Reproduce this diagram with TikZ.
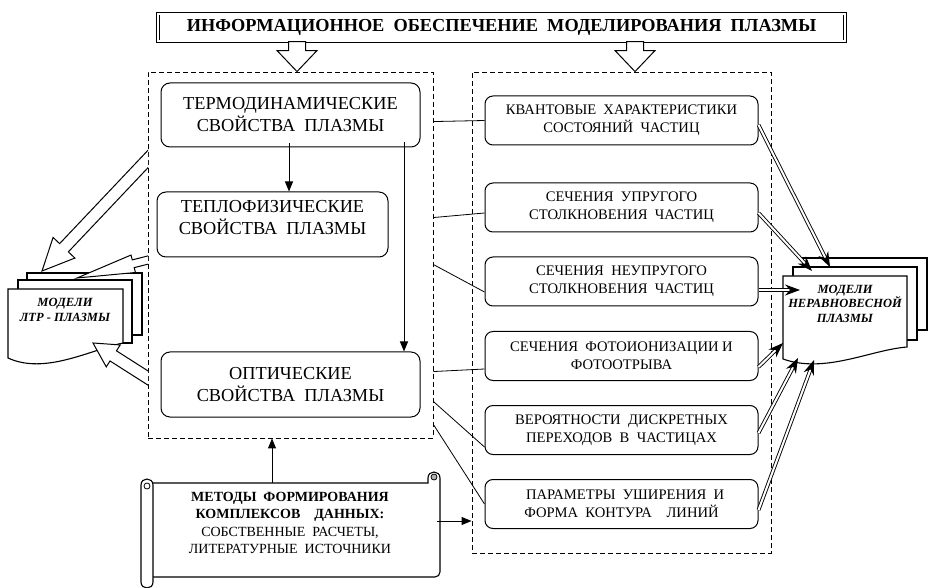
\documentclass[tikz,border=0pt]{standalone}
\usepackage{fontspec}
\setmainfont{Liberation Serif}
\usetikzlibrary{arrows.meta,positioning,calc}

% wide hollow arrow: from, to, half shaft, half head, head length
\newcommand{\hollowarrow}[5]{%
  \coordinate (ha) at ($(#2)!#5!(#1)$);
  \draw[hollow] ($(#1)!#3!90:(#2)$) -- ($(ha)!#3!90:(#2)$) -- ($(ha)!#4!90:(#2)$) -- (#2)
    -- ($(ha)!#4!-90:(#2)$) -- ($(ha)!#3!-90:(#2)$) -- ($(#1)!#3!-90:(#2)$) -- cycle;
}
% double line with a single head
\newcommand{\dblarrow}[2]{%
  \draw[dbl] (#1) -- ($(#2)!7pt!(#1)$);
  \draw[dblhead] ($(#2)!2pt!(#1)$) -- (#2);
}

\begin{document}
\begin{tikzpicture}[x=1pt, y=-1pt,
    titlebox/.style={draw, double, double distance=1.6pt, line width=0.9pt, minimum width=687pt, minimum height=27.5pt, inner sep=0pt, font=\fontsize{18.3}{22}\selectfont\bfseries},
    groupbox/.style={draw, line width=0.9pt, dash pattern=on 5pt off 3pt, inner sep=0pt},
    lblock/.style={draw, line width=1pt, rounded corners=9pt, align=center, inner sep=0pt, font=\fontsize{18.3}{22}\selectfont},
    rblock/.style={draw, line width=1pt, rounded corners=8pt, align=center, inner sep=0pt, minimum width=273pt, minimum height=49pt, font=\fontsize{14.6}{18}\selectfont},
    modeltext/.style={align=center, inner sep=0pt, font=\fontsize{12.5}{14.5}\selectfont\bfseries\itshape},
    page/.style={draw, line width=1.1pt, fill=white},
    hollow/.style={draw, line width=1pt, fill=white, line join=miter},
    arr/.style={-{Triangle[length=10pt, width=8pt]}, line width=1pt},
    link/.style={line width=0.8pt},
    dbl/.style={double, double distance=2pt, line width=0.9pt},
    dblhead/.style={-{Stealth[length=15pt, width=11pt, inset=5pt]}, line width=1pt},
    scrollline/.style={draw, line width=1.1pt, fill=white}
]
    \useasboundingbox (0,0) rectangle (930,588);

    % Title
    \node[titlebox] (title) at (501.5,27.5) {ИНФОРМАЦИОННОЕ~ ОБЕСПЕЧЕНИЕ~ МОДЕЛИРОВАНИЯ~ ПЛАЗМЫ};

    % Dashed groups
    \node[groupbox, minimum width=285pt, minimum height=366pt] (lbox) at (290.5,255) {};
    \node[groupbox, minimum width=299pt, minimum height=481pt] (rbox) at (621.5,312.5) {};

    % Arrows from the title
    \coordinate (ltip) at ([xshift=6.5pt]lbox.north);
    \coordinate (ltop) at (ltip |- title.south);
    \coordinate (rtip) at ([xshift=13.5pt]rbox.north);
    \coordinate (rtop) at (rtip |- title.south);
    \hollowarrow{ltop}{ltip}{8.5pt}{20pt}{21pt}
    \hollowarrow{rtop}{rtip}{8.5pt}{20pt}{21pt}

    % Plasma properties
    \node[lblock, minimum width=259pt, minimum height=64pt] (thermo) at (290.5,115) {ТЕРМОДИНАМИЧЕСКИЕ\\СВОЙСТВА~ ПЛАЗМЫ};
    \node[lblock, minimum width=231pt, minimum height=65pt] (teplo) at (272.5,224.5) {ТЕПЛОФИЗИЧЕСКИЕ\\СВОЙСТВА~ ПЛАЗМЫ\\[-8pt]\mbox{}};
    \node[lblock, minimum width=259pt, minimum height=65pt] (optic) at (290.5,384.5) {ОПТИЧЕСКИЕ\\СВОЙСТВА~ ПЛАЗМЫ};

    \draw[arr] ([xshift=-1.5pt, yshift=4pt]thermo.south) -- ([xshift=-1.5pt]thermo.south |- teplo.north);
    \draw[arr] ([xshift=113.5pt, yshift=5pt]thermo.south) -- ([xshift=113.5pt]thermo.south |- optic.north);

    % Particle data
    \node[rblock] (kvant) at (621.5,120.5) {КВАНТОВЫЕ~ ХАРАКТЕРИСТИКИ\\СОСТОЯНИЙ~ ЧАСТИЦ};
    \node[rblock] (elast) at (621.5,207.5) {СЕЧЕНИЯ~ УПРУГОГО\\СТОЛКНОВЕНИЯ~ ЧАСТИЦ};
    \node[rblock] (inelast) at (621.5,281.5) {СЕЧЕНИЯ~ НЕУПРУГОГО\\СТОЛКНОВЕНИЯ~ ЧАСТИЦ};
    \node[rblock] (photo) at (621.5,356) {СЕЧЕНИЯ~ ФОТОИОНИЗАЦИИ И\\ФОТООТРЫВА};
    \node[rblock] (prob) at (621.5,430) {ВЕРОЯТНОСТИ~ ДИСКРЕТНЫХ\\ПЕРЕХОДОВ~ В~ ЧАСТИЦАХ};
    \node[rblock] (broad) at (621.5,504) {~~ПАРАМЕТРЫ~ УШИРЕНИЯ~ И\\ФОРМА~ КОНТУРА~~~ ЛИНИЙ};

    \draw[link] ($(lbox.north east)+(0,50)$) -- (kvant.west);
    \draw[link] ($(lbox.north east)+(0,146)$) -- ([yshift=-5.5pt]elast.west);
    \draw[link] ($(lbox.north east)+(0,193)$) -- ([yshift=-10.5pt]inelast.west);
    \draw[link] ($(lbox.north east)+(0,300)$) -- ([yshift=-13pt]photo.west);
    \draw[link] ($(lbox.north east)+(0,330)$) -- ([yshift=-17pt]prob.west);
    \draw[link] ($(lbox.north east)+(0,353)$) -- (broad.west);

    % Left model stack
    \draw[page] (27,273) rectangle (142,335);
    \draw[page] (18,280) rectangle (132,343);
    \draw[page] (8,289) -- (123,289) -- (123,343) .. controls (90,350) and (45,375) .. (8,358) -- cycle;
    \node[modeltext] (ltr) at (65,310) {МОДЕЛИ\\ЛТР - ПЛАЗМЫ};

    % Right model stack
    \draw[page] (803,258) rectangle (927,330);
    \draw[page] (793,267) rectangle (917,340);
    \draw[page] (783,276) -- (907,276) -- (907,347) .. controls (870,350) and (825,374) .. (783,359) -- cycle;
    \node[modeltext] (noneq) at (845,303.5) {МОДЕЛИ\\НЕРАВНОВЕСНОЙ\\ПЛАЗМЫ};

    % Hollow arrows to the left stack
    \coordinate (la1) at (158,148.4);
    \coordinate (lt1) at (42,271);
    \coordinate (la2) at (158,257.5);
    \coordinate (lt2) at (77,278);
    \coordinate (la3) at (158,384.4);
    \coordinate (lt3) at (93,343);
    \begin{scope}
        \clip (0,0) rectangle (148,588);
        \hollowarrow{la1}{lt1}{6pt}{15pt}{32pt}
        \hollowarrow{la2}{lt2}{4pt}{9pt}{58pt}
        \hollowarrow{la3}{lt3}{6pt}{13pt}{24pt}
    \end{scope}

    % Double arrows to the right stack
    \coordinate (rs1) at ([yshift=-4.5pt]kvant.east);
    \coordinate (rs2) at ([yshift=-5.5pt]elast.east);
    \coordinate (rs3) at ([yshift=-8.5pt]inelast.east);
    \coordinate (rs4) at ([yshift=-11pt]photo.east);
    \coordinate (rs5) at ([yshift=-3pt]prob.east);
    \coordinate (rs6) at ([yshift=-6pt]broad.east);
    \coordinate (rt1) at (830,267);
    \coordinate (rt2) at (812,271);
    \coordinate (rt3) at (800,290);
    \coordinate (rt4) at (783,343);
    \coordinate (rt5) at (798,358);
    \coordinate (rt6) at (814,360);
    \foreach \i in {1,...,6} {\dblarrow{rs\i}{rt\i}}

    % Scroll with data sources
    \draw[scrollline] (147,483) -- (428,483) -- (428,478) .. controls (428,470) and (440,470) .. (440,478) [rounded corners=5pt] -- (440,577) -- (153,577);
    \draw[fill=gray!60, line width=0.8pt] (434,477) circle (3pt);
    \draw[scrollline] (141,485) .. controls (141,477) and (153,477) .. (153,485) -- (153,582) .. controls (153,590) and (141,590) .. (141,582) -- cycle;
    \draw[line width=0.8pt] (147,486) circle (3pt);
    \node[align=center, inner sep=0pt, font=\fontsize{14}{17.5}\selectfont] (methods) at (290,523)
        {\textbf{МЕТОДЫ~ ФОРМИРОВАНИЯ}\\\textbf{КОМПЛЕКСОВ~~~ ДАННЫХ:}\\СОБСТВЕННЫЕ~ РАСЧЕТЫ,\\ЛИТЕРАТУРНЫЕ~ ИСТОЧНИКИ};

    \coordinate (scrolltop) at (272,483);
    \coordinate (scrollright) at (437,521);
    \draw[arr] (scrolltop) -- (scrolltop |- lbox.south);
    \draw[arr] (scrollright) -- (scrollright -| rbox.west);
\end{tikzpicture}
\end{document}
